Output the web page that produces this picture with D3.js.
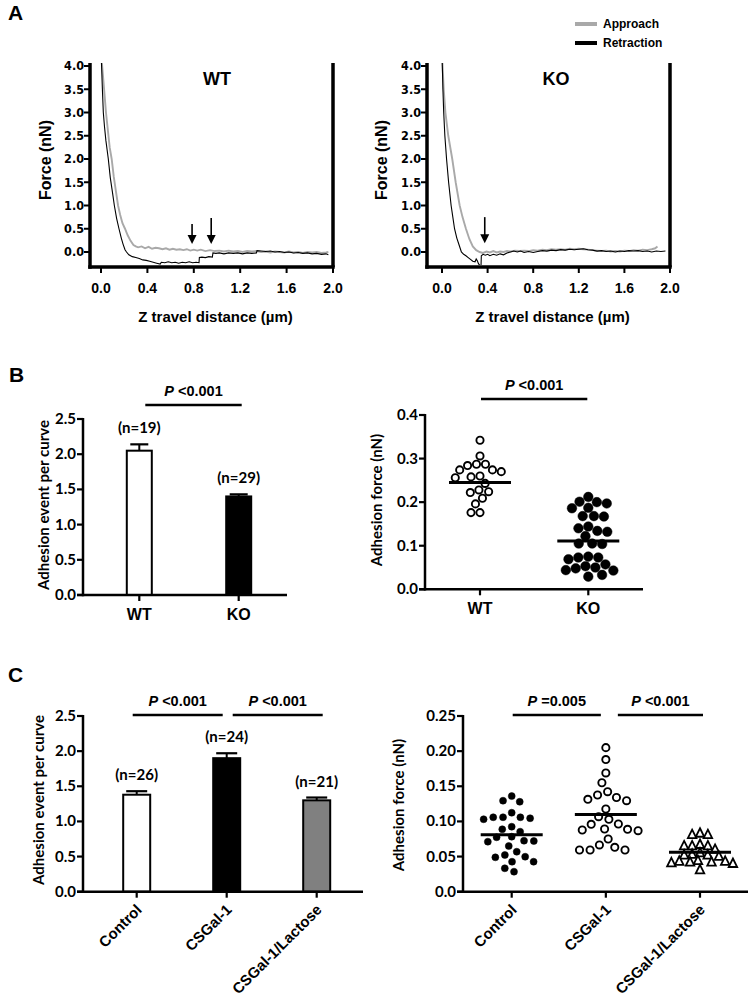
<!DOCTYPE html>
<html><head><meta charset="utf-8">
<script src="https://cdn.jsdelivr.net/npm/d3@7"></script>
<style>body{margin:0;background:#fff} svg{display:block}</style>
</head><body><svg id="c" width="750" height="996"></svg>
<script>
// ---------------- DATA ----------------
// Panel A: force curves [z (µm), force (nN)]
const wtApproach = [[0.000,4.30],[0.010,4.00],[0.025,3.55],[0.043,3.00],[0.060,2.60],[0.075,2.25],[0.092,2.00],[0.110,1.62],[0.130,1.28],[0.147,1.00],[0.165,0.80],[0.185,0.62],[0.207,0.50],[0.230,0.36],[0.255,0.24],[0.280,0.15],[0.300,0.12],[0.32,0.10],[0.35,0.12],[0.38,0.08],[0.41,0.11],[0.44,0.07],[0.47,0.09],[0.50,0.08],[0.53,0.06],[0.56,0.08],[0.59,0.05],[0.62,0.07],[0.65,0.05],[0.68,0.06],[0.71,0.04],[0.74,0.06],[0.77,0.03],[0.80,0.05],[0.83,0.03],[0.86,0.05],[0.90,0.02],[0.94,0.04],[0.98,0.02],[1.02,0.03],[1.06,0.01],[1.10,0.03],[1.14,0.01],[1.18,0.02],[1.22,0.00],[1.26,0.02],[1.30,0.01],[1.34,0.02],[1.38,0.00],[1.42,0.01],[1.46,-0.01],[1.50,0.01],[1.54,0.00],[1.58,-0.01],[1.62,0.01],[1.66,-0.01],[1.70,0.00],[1.74,-0.02],[1.78,0.00],[1.82,-0.01],[1.86,0.00],[1.90,-0.02],[1.94,-0.01],[1.96,0.00]];
const wtRetraction = [[0.000,4.30],[0.005,4.00],[0.012,3.50],[0.020,3.00],[0.030,2.70],[0.042,2.40],[0.063,2.00],[0.080,1.60],[0.098,1.30],[0.115,1.00],[0.135,0.72],[0.155,0.50],[0.175,0.30],[0.190,0.17],[0.207,0.05],[0.22,0.00],[0.24,-0.06],[0.27,-0.10],[0.30,-0.12],[0.33,-0.14],[0.36,-0.17],[0.39,-0.18],[0.42,-0.20],[0.45,-0.22],[0.48,-0.24],[0.51,-0.26],[0.52,-0.22],[0.55,-0.23],[0.58,-0.21],[0.61,-0.23],[0.64,-0.22],[0.67,-0.24],[0.70,-0.22],[0.73,-0.23],[0.76,-0.21],[0.79,-0.23],[0.82,-0.22],[0.845,-0.23],[0.848,-0.12],[0.87,-0.11],[0.90,-0.12],[0.93,-0.10],[0.96,-0.11],[0.965,-0.02],[0.99,-0.03],[1.02,-0.02],[1.06,-0.04],[1.10,-0.02],[1.14,-0.03],[1.18,-0.02],[1.22,-0.04],[1.26,-0.02],[1.30,-0.03],[1.34,-0.02],[1.345,0.03],[1.38,0.02],[1.42,0.01],[1.46,0.02],[1.50,0.00],[1.54,0.01],[1.58,-0.01],[1.62,0.00],[1.66,-0.02],[1.70,-0.01],[1.74,-0.03],[1.78,-0.02],[1.82,-0.04],[1.86,-0.03],[1.90,-0.05],[1.94,-0.04],[1.96,-0.06]];
const koApproach = [[0.000,4.30],[0.005,4.00],[0.015,3.50],[0.030,3.00],[0.055,2.50],[0.090,2.00],[0.12,1.50],[0.155,1.00],[0.18,0.75],[0.21,0.50],[0.24,0.28],[0.27,0.12],[0.30,0.04],[0.33,0.00],[0.36,-0.02],[0.39,0.01],[0.42,-0.01],[0.45,0.02],[0.48,-0.01],[0.51,0.01],[0.54,0.00],[0.57,0.02],[0.60,0.01],[0.64,0.03],[0.68,0.02],[0.72,0.03],[0.76,0.02],[0.80,0.04],[0.84,0.03],[0.88,0.05],[0.92,0.04],[0.96,0.06],[1.00,0.05],[1.04,0.06],[1.08,0.05],[1.12,0.07],[1.16,0.06],[1.20,0.07],[1.24,0.06],[1.28,0.05],[1.32,0.04],[1.36,0.03],[1.40,0.02],[1.44,0.03],[1.48,0.01],[1.52,0.02],[1.56,0.01],[1.60,0.03],[1.64,0.02],[1.68,0.04],[1.72,0.03],[1.76,0.05],[1.80,0.04],[1.84,0.06],[1.87,0.08],[1.89,0.12]];
const koRetraction = [[0.000,4.30],[0.003,4.00],[0.008,3.50],[0.015,3.00],[0.025,2.50],[0.040,2.00],[0.058,1.50],[0.080,1.00],[0.095,0.75],[0.11,0.50],[0.13,0.30],[0.15,0.15],[0.17,0.00],[0.19,-0.05],[0.21,-0.08],[0.23,-0.12],[0.25,-0.16],[0.27,-0.20],[0.29,-0.21],[0.30,-0.15],[0.31,-0.19],[0.32,-0.25],[0.335,-0.30],[0.342,-0.32],[0.345,-0.08],[0.36,-0.05],[0.38,-0.07],[0.40,-0.05],[0.42,-0.08],[0.45,-0.05],[0.48,-0.07],[0.51,-0.04],[0.54,-0.06],[0.57,-0.02],[0.60,0.00],[0.63,0.02],[0.66,0.00],[0.69,0.02],[0.72,-0.01],[0.76,0.01],[0.80,-0.01],[0.84,0.01],[0.88,0.03],[0.92,0.02],[0.96,0.04],[1.00,0.03],[1.04,0.05],[1.08,0.04],[1.12,0.06],[1.16,0.05],[1.20,0.06],[1.24,0.07],[1.28,0.05],[1.32,0.04],[1.36,0.02],[1.40,0.03],[1.44,0.01],[1.48,0.02],[1.52,0.00],[1.56,0.02],[1.60,0.01],[1.64,0.03],[1.68,0.02],[1.72,0.03],[1.76,0.01],[1.80,0.02],[1.84,0.00],[1.88,0.02],[1.92,0.01],[1.96,0.02]];
const wtArrowX = [0.785, 0.95], wtArrowTop = [0.60, 0.73], wtArrowTip = [0.17, 0.17];
const koArrowX = [0.375], koArrowTop = [0.75], koArrowTip = [0.19];
const forceYTicks = [0,0.5,1,1.5,2,2.5,3,3.5,4];
const forceXTicks = [0,0.4,0.8,1.2,1.6,2.0];
const legendLabels = ['Approach','Retraction'];

// Panel B
const bCats = ['WT','KO'];
const bMeans = [2.05, 1.40];
const bSem = [0.09, 0.03];
const bN = [19, 29];
const bBarP = ['<0.001'];
const bWT = [0.342,0.306,0.287,0.284,0.287,0.274,0.270,0.274,0.258,0.256,0.260,0.243,0.228,0.222,0.224,0.209,0.196,0.176,0.176];
const bKO = [0.212,0.187,0.200,0.197,0.201,0.186,0.168,0.167,0.168,0.144,0.134,0.132,0.140,0.122,0.105,0.104,0.105,0.073,0.069,0.073,0.075,0.053,0.048,0.043,0.057,0.029,0.033,0.044,0.050];
const bScatterMeans = [0.245, 0.111];
const bScatterP = ['<0.001'];
const barYTicks = [0,0.5,1,1.5,2,2.5];
const bScatterYTicks = [0,0.1,0.2,0.3,0.4];

// Panel C
const cCats = ['Control','CSGal-1','CSGal-1/Lactose'];
const cMeans = [1.38, 1.90, 1.30];
const cSem = [0.05, 0.07, 0.04];
const cN = [26, 24, 21];
const cBarP = ['<0.001','<0.001'];
const cControl = [0.1295,0.128,0.136,0.1059,0.1059,0.1031,0.1045,0.1059,0.1124,0.0888,0.0854,0.0925,0.0774,0.0721,0.065,0.0712,0.0726,0.0783,0.0569,0.0489,0.0498,0.0522,0.0427,0.0427,0.0285,0.0333];
const cCSGal = [0.205,0.188,0.169,0.155,0.1423,0.1295,0.134,0.1315,0.1376,0.1177,0.103,0.1067,0.0959,0.0963,0.0888,0.0868,0.0878,0.0892,0.075,0.0665,0.0593,0.0593,0.0593,0.0632];
const cLactose = [0.083,0.081,0.081,0.067,0.065,0.065,0.065,0.060,0.055,0.053,0.052,0.052,0.050,0.044,0.043,0.043,0.042,0.042,0.041,0.040,0.031];
const cScatterMeans = [0.081, 0.110, 0.056];
const cScatterP = ['=0.005','<0.001'];
const cScatterYTicks = [0,0.05,0.10,0.15,0.20,0.25];
const cScatterYTickLabels = ['0.0','0.05','0.10','0.15','0.20','0.25'];

// ---------------- DRAWING ----------------
const svg = d3.select('#c');
const defs = svg.append('defs');
const F_ARIAL = "'Liberation Sans', Arial, Helvetica, sans-serif";
const F_NARROW = "'Liberation Sans Narrow','Arial Narrow','DejaVu Sans Condensed','Liberation Sans',sans-serif";
const F_CAL = "Lato, 'Open Sans', sans-serif";

function txt(g, x, y, s, size, family, anchor='middle', weight='bold') {
  return g.append('text').attr('x', x).attr('y', y).text(s)
    .attr('font-size', size).attr('font-family', family).attr('font-weight', weight)
    .attr('text-anchor', anchor).attr('fill', '#000');
}
function vtxt(g, x, y, s, size, family) {
  return g.append('text').attr('transform', `translate(${x},${y}) rotate(-90)`).text(s)
    .attr('font-size', size).attr('font-family', family).attr('font-weight', 'bold')
    .attr('text-anchor', 'middle').attr('fill', '#000');
}
function ln(g, x1, y1, x2, y2, w) {
  return g.append('line').attr('x1', x1).attr('y1', y1).attr('x2', x2).attr('y2', y2)
    .attr('stroke', '#000').attr('stroke-width', w);
}
function pLabel(g, x, y, s, size) {
  const t = g.append('text').attr('x', x).attr('y', y).attr('text-anchor', 'middle')
    .attr('font-family', F_ARIAL).attr('font-weight', 'bold').attr('font-size', size);
  t.append('tspan').attr('font-style', 'italic').text('P');
  t.append('tspan').text(' ' + s);
}

// Panel letters
txt(svg, 8, 20, 'A', 21, F_ARIAL, 'start');
txt(svg, 9, 382, 'B', 21, F_ARIAL, 'start');
txt(svg, 8, 682, 'C', 21, F_ARIAL, 'start');

function forcePanel(o) {
  const g = svg.append('g');
  const x = d3.scaleLinear().domain([0, 2]).range([o.x0, o.x2]);
  const y = d3.scaleLinear().domain([0, 4]).range([252, 66]);
  const top = 63, bottom = 267;
  const cid = 'clip' + o.title;
  defs.append('clipPath').attr('id', cid).append('rect')
    .attr('x', o.left + 2).attr('y', top).attr('width', o.x2 - o.left - 4).attr('height', bottom - top - 2);
  const line = d3.line().x(d => x(d[0])).y(d => y(d[1]));
  g.append('path').datum(o.approach).attr('d', line).attr('fill', 'none')
    .attr('stroke', '#a9a9a9').attr('stroke-width', 1.9).attr('clip-path', `url(#${cid})`);
  g.append('path').datum(o.retraction).attr('d', line).attr('fill', 'none')
    .attr('stroke', '#000').attr('stroke-width', 1.1).attr('clip-path', `url(#${cid})`);
  // spines
  ln(g, o.left, top, o.left, bottom + 1.75, 3.5);
  ln(g, o.left - 1.75, bottom, o.x2 + 1.75, bottom, 3.5);
  ln(g, o.x2, top, o.x2, bottom, 3.5);
  // y ticks
  forceYTicks.forEach(v => {
    ln(g, o.left - 6, y(v), o.left, y(v), 2);
    txt(g, o.left - 6, y(v) + 4.3, d3.format('.1f')(v), 12.5, F_NARROW, 'end');
  });
  forceXTicks.forEach(v => {
    ln(g, x(v), bottom, x(v), bottom + 6, 2);
    txt(g, x(v), 293, d3.format('.1f')(v), 14, F_ARIAL);
  });
  txt(g, o.titleX, 85, o.title, 18, F_ARIAL);
  vtxt(g, o.ylabX, 160, 'Force (nN)', 16, F_ARIAL);
  txt(g, (o.left + o.x2) / 2 + 4, 322, 'Z travel distance (µm)', 15, F_ARIAL);
  // arrows
  o.arrowX.forEach((ax, i) => {
    const px = x(ax), tipY = y(o.arrowTip[i]);
    ln(g, px, y(o.arrowTop[i]), px, tipY - 7, 1.6);
    g.append('path').attr('d', `M${px - 4.5},${tipY - 9}L${px + 4.5},${tipY - 9}L${px},${tipY}Z`).attr('fill', '#000');
  });
}
forcePanel({title: 'WT', left: 90, x0: 101, x2: 333, titleX: 217, ylabX: 51,
  approach: wtApproach, retraction: wtRetraction, arrowX: wtArrowX, arrowTop: wtArrowTop, arrowTip: wtArrowTip});
forcePanel({title: 'KO', left: 427, x0: 442, x2: 670, titleX: 556, ylabX: 387,
  approach: koApproach, retraction: koRetraction, arrowX: koArrowX, arrowTop: koArrowTop, arrowTip: koArrowTip});

// legend
[['#a9a9a9', 24], ['#000', 43]].forEach(([col, yy], i) => {
  svg.append('line').attr('x1', 575).attr('x2', 597).attr('y1', yy).attr('y2', yy)
    .attr('stroke', col).attr('stroke-width', 4);
  txt(svg, 603, yy + 4.3, legendLabels[i], 12, F_ARIAL, 'start');
});

// generic category axis
function catAxes(g, o, y, cx) {
  ln(g, o.axisX, o.yTopPx - 1, o.axisX, o.y0px + 1.25, 2.5);
  ln(g, o.axisX - 6, o.y0px, o.xEnd, o.y0px, 2.5);
  o.yTicks.forEach((v, i) => {
    ln(g, o.axisX - 6, y(v), o.axisX, y(v), 2.2);
    txt(g, o.axisX - 7, y(v) + 5, o.tickLabels ? o.tickLabels[i] : d3.format('.1f')(v), 15, F_CAL, 'end');
  });
  o.cats.forEach(c => ln(g, cx(c), o.y0px, cx(c), o.y0px + 6, 2.2));
  vtxt(g, o.ylabX, o.ylabY, o.ylab, 15, F_CAL);
  if (o.rotated) {
    o.cats.forEach(c => {
      g.append('text').attr('transform', `translate(${cx(c) + 6},${o.y0px + 19}) rotate(-45)`)
        .attr('text-anchor', 'end').attr('font-family', F_ARIAL).attr('font-weight', 'bold')
        .attr('font-size', 15).text(c);
    });
  } else {
    o.cats.forEach(c => txt(g, cx(c), o.y0px + 25, c, 16, F_ARIAL));
  }
  // P brackets between consecutive categories
  o.pvals.forEach((p, i) => {
    const a = cx(o.cats[i]), b = cx(o.cats[i + 1]);
    const x1 = i === 0 ? a + o.bInset[0] : a + o.bInset[2];
    const x2 = i === 0 ? b + o.bInset[1] : b + o.bInset[3];
    ln(g, x1, o.bracketY, x2, o.bracketY, 2.5);
    pLabel(g, (x1 + x2) / 2, o.bracketY - 9, p, 14.5);
  });
}

function barPanel(o) {
  const g = svg.append('g');
  const y = d3.scaleLinear().domain([0, o.yTicks[o.yTicks.length - 1]]).range([o.y0px, o.yTopPx]);
  const cx = d3.scalePoint().domain(o.cats).range(o.centers);
  const bw = o.barW;
  o.cats.forEach((c, i) => {
    const top = y(o.means[i]), et = y(o.means[i] + o.sem[i]);
    ln(g, cx(c), top, cx(c), et, 2);
    ln(g, cx(c) - o.capW / 2, et, cx(c) + o.capW / 2, et, 2.2);
    g.append('rect').attr('x', cx(c) - bw / 2).attr('y', top).attr('width', bw).attr('height', o.y0px - top)
      .attr('fill', o.fills[i]).attr('stroke', '#000').attr('stroke-width', 2);
    txt(g, cx(c), et - 11, `(n=${o.n[i]})`, 15, F_CAL);
  });
  catAxes(g, o, y, cx);
}

barPanel({cats: bCats, means: bMeans, sem: bSem, n: bN, fills: ['#fff', '#000'], pvals: bBarP,
  axisX: 83, xEnd: 287, y0px: 595, yTopPx: 419, yTicks: barYTicks, centers: [139.3, 238.7],
  barW: 25, capW: 18, ylab: 'Adhesion event per curve', ylabX: 49, ylabY: 505,
  bracketY: 405, bInset: [6, 3, 6, 3]});
barPanel({cats: cCats, means: cMeans, sem: cSem, n: cN, fills: ['#fff', '#000', '#808080'], pvals: cBarP,
  axisX: 83, xEnd: 363, y0px: 891.7, yTopPx: 716, yTicks: barYTicks, centers: [136.7, 316.7],
  barW: 27, capW: 21, ylab: 'Adhesion event per curve', ylabX: 44, ylabY: 800,
  bracketY: 715, bInset: [-4, -4, 6, 6], rotated: true});

// beeswarm layout (deterministic)
function swarm(values, y, D) {
  const pts = values.map(v => ({v, y: y(v)})).sort((a, b) => b.v - a.v);
  const placed = [];
  pts.forEach(p => {
    const iv = [];
    placed.forEach(q => {
      const dy = Math.abs(q.y - p.y);
      if (dy < D) { const dx = Math.sqrt(D * D - dy * dy); iv.push([q.x - dx, q.x + dx]); }
    });
    const cands = [0];
    iv.forEach(([a, b]) => cands.push(a, b));
    cands.sort((a, b) => Math.abs(a) - Math.abs(b) || a - b);
    for (const c of cands) {
      if (iv.every(([a, b]) => c <= a + 1e-6 || c >= b - 1e-6)) { p.x = c; break; }
    }
    placed.push(p);
  });
  return placed;
}

function scatterPanel(o) {
  const g = svg.append('g');
  const y = d3.scaleLinear().domain([0, o.yTicks[o.yTicks.length - 1]]).range([o.y0px, o.yTopPx]);
  const cx = d3.scalePoint().domain(o.cats).range(o.centers);
  o.cats.forEach((c, i) => {
    const m = o.markers[i];
    const pts = swarm(o.groups[i], y, m.D);
    pts.forEach(p => {
      const px = cx(c) + p.x, py = p.y;
      if (m.type === 'tri') {
        const s = m.size;
        g.append('path').attr('d', `M${px},${py - s * 0.6}L${px + s / 2},${py + s * 0.4}L${px - s / 2},${py + s * 0.4}Z`)
          .attr('fill', '#fff').attr('stroke', '#000').attr('stroke-width', 1.8).attr('stroke-linejoin', 'miter');
      } else {
        g.append('circle').attr('cx', px).attr('cy', py).attr('r', m.r)
          .attr('fill', m.filled ? '#000' : '#fff').attr('stroke', '#000').attr('stroke-width', m.filled ? 0.5 : 1.9);
      }
    });
    ln(g, cx(c) - o.meanHalf, y(o.means[i]), cx(c) + o.meanHalf, y(o.means[i]), 3);
  });
  catAxes(g, o, y, cx);
}

scatterPanel({cats: bCats, groups: [bWT, bKO], means: bScatterMeans, pvals: bScatterP,
  markers: [{r: 3.6, filled: false, D: 9}, {r: 4.8, filled: true, D: 10}],
  axisX: 425, xEnd: 643, y0px: 589.3, yTopPx: 415, yTicks: bScatterYTicks, centers: [480, 588.3],
  meanHalf: 31, ylab: 'Adhesion force (nN)', ylabX: 382, ylabY: 500,
  bracketY: 399, bInset: [1, -1, 1, -1]});
scatterPanel({cats: cCats, groups: [cControl, cCSGal, cLactose], means: cScatterMeans, pvals: cScatterP,
  markers: [{r: 3.5, filled: true, D: 9.8}, {r: 3.6, filled: false, D: 10.6}, {type: 'tri', size: 8.5, D: 8}],
  axisX: 463, xEnd: 748, y0px: 891.7, yTopPx: 716, yTicks: cScatterYTicks, tickLabels: cScatterYTickLabels,
  centers: [511.7, 700], meanHalf: 31, ylab: 'Adhesion force (nN)', ylabX: 404, ylabY: 805,
  bracketY: 715, bInset: [1, -5, 12, 3], rotated: true});
</script>
</body></html>
